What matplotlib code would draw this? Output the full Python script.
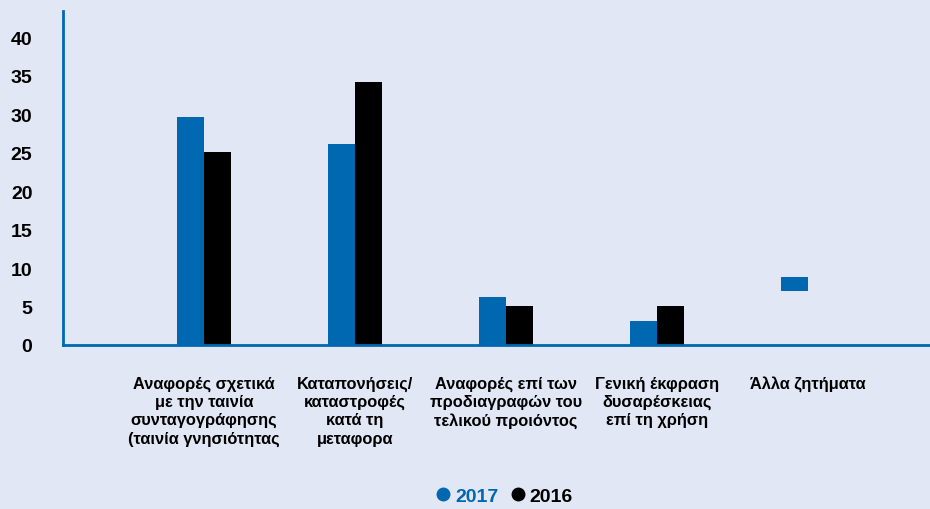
import matplotlib.pyplot as plt
from matplotlib.lines import Line2D
import numpy as np

plt.rcParams['font.family'] = ['Liberation Sans', 'DejaVu Sans']

categories = ["Αναφορές σχετικά\nμε την ταινία\nσυνταγογράφησης\n(ταινία γνησιότητας",
              "Καταπονήσεις/\nκαταστροφές\nκατά τη\nμεταφορα",
              "Αναφορές επί των\nπροδιαγραφών του\nτελικού προιόντος",
              "Γενική έκφραση\nδυσαρέσκειας\nεπί τη χρήση",
              "Άλλα ζητήματα"]
vals_2017 = [29.6, 26.1, 6.2, 3.1, 1.8]
base_2017 = [0, 0, 0, 0, 7.0]
vals_2016 = [25.1, 34.2, 5.1, 5.1, 0]

bg = '#e1e7f4'
blue = '#0068b1'

fig = plt.figure(figsize=(9.3, 5.1), dpi=100, facecolor=bg)
ax = fig.add_axes([63/930, 164/510, 1 - 63/930, 334/510])
ax.set_facecolor(bg)

x = np.arange(len(categories))
w = 0.18
ax.bar(x - w/2, vals_2017, w, bottom=base_2017, color=blue, label='2017')
ax.bar(x + w/2, vals_2016, w, color='black', label='2016')

ax.set_xlim(-0.934, 4.81)
ax.set_ylim(0, 43.4)
ax.set_yticks(range(0, 41, 5))
ax.set_xticks(x)
ax.set_xticklabels(categories, fontsize=11.8, fontweight='bold', linespacing=1.26)
ax.tick_params(axis='x', length=0, pad=22)
ax.tick_params(axis='y', length=0, pad=22, labelsize=14)
for t in ax.get_yticklabels():
    t.set_fontweight('bold')

for s in ['top', 'right']:
    ax.spines[s].set_visible(False)
for s in ['left', 'bottom']:
    ax.spines[s].set_color(blue)
    ax.spines[s].set_linewidth(2)

handles = [Line2D([], [], marker='o', ls='', color=blue, markersize=9),
           Line2D([], [], marker='o', ls='', color='black', markersize=9)]
fig.legend(handles, ['2017', '2016'], loc='center', bbox_to_anchor=(504/930, 1 - 497/510),
           ncol=2, frameon=False, handletextpad=0.2, columnspacing=0.6, handlelength=0.8,
           labelcolor=[blue, 'black'], prop={'weight': 'bold', 'size': 14})

fig.savefig('out.png', dpi=100, facecolor=bg)
